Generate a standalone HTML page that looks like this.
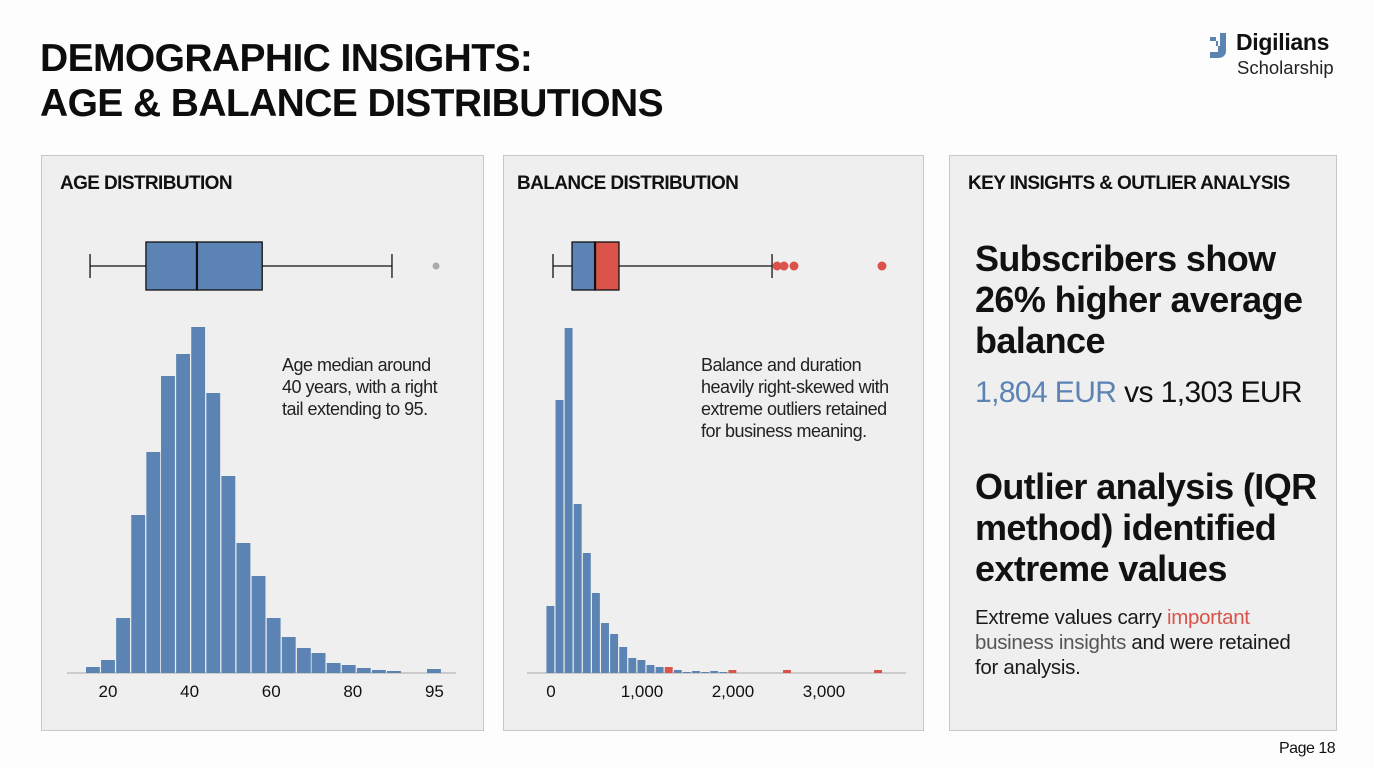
<!DOCTYPE html>
<html><head><meta charset="utf-8"><style>
body{margin:0;width:1374px;height:768px;background:#fdfdfd;font-family:"Liberation Sans",sans-serif;position:relative;overflow:hidden;color:#111}
.abs{position:absolute}
.title{left:40px;top:36px;font-size:39px;font-weight:bold;line-height:45px;letter-spacing:-0.6px;color:#0d0d0d}
.panel{background:#efefef;border:1px solid #c8c8c8;top:155px;height:574px}
.ptitle{font-size:19px;font-weight:bold;letter-spacing:-0.6px;position:absolute;top:17px}
.big{font-size:36px;font-weight:bold;line-height:41px;letter-spacing:-0.6px;left:25px}
</style></head><body>
<div class="abs title">DEMOGRAPHIC INSIGHTS:<br>AGE &amp; BALANCE DISTRIBUTIONS</div>
<div class="abs" style="left:1208px;top:31px;width:140px">
<svg width="22" height="26" style="position:absolute;left:2px;top:2px"><path d="M0 4h6v9h4V0h6v18c0 4-3 7-8 7H0v-6h8V8H0z" fill="#5b83b3"/></svg>
<div style="position:absolute;left:28px;top:-2px;font-size:23px;font-weight:bold;letter-spacing:-0.3px">Digilians</div>
<div style="position:absolute;left:29px;top:26px;font-size:18.5px;color:#222">Scholarship</div></div>

<div class="abs panel" style="left:41px;width:441px">
<div class="ptitle" style="left:18px">AGE DISTRIBUTION</div>
<div class="abs" style="left:240px;top:198px;font-size:18px;line-height:22px;letter-spacing:-0.5px;color:#222">Age median around<br>40 years, with a right<br>tail extending to 95.</div></div>
<div class="abs panel" style="left:503px;width:419px">
<div class="ptitle" style="left:13px">BALANCE DISTRIBUTION</div>
<div class="abs" style="left:197px;top:198px;font-size:18px;line-height:22px;letter-spacing:-0.5px;color:#222">Balance and duration<br>heavily right-skewed with<br>extreme outliers retained<br>for business meaning.</div></div>
<div class="abs panel" style="left:949px;width:386px">
<div class="ptitle" style="left:18px">KEY INSIGHTS &amp; OUTLIER ANALYSIS</div>
<div class="abs big" style="top:82px">Subscribers show<br>26% higher average<br>balance</div>
<div class="abs" style="left:25px;top:220px;font-size:30px;letter-spacing:-0.6px"><span style="color:#5b83b3">1,804 EUR</span> vs 1,303 EUR</div>
<div class="abs big" style="top:310px">Outlier analysis (IQR<br>method) identified<br>extreme values</div>
<div class="abs" style="left:25px;top:449px;font-size:20.5px;line-height:25px;letter-spacing:-0.3px;color:#1a1a1a">Extreme values carry <span style="color:#d9534a">important</span><br><span style="color:#555">business insights</span> and were retained<br>for analysis.</div></div>
<div class="abs" style="left:1279px;top:740px;font-size:16px;letter-spacing:-0.5px">Page 18</div>

<svg id="charts" class="abs" style="left:0;top:0" width="1374" height="768"></svg>
<script>
// Age data
const ageBinStart=[14.6,18.3,22.0,25.7,29.4,33.0,36.7,40.4,44.1,47.8,51.5,55.2,58.9,62.6,66.3,69.9,73.6,77.3,81.0,84.7,88.4,98.2];
const ageCounts=[6,13,55,158,221,297,319,346,280,197,130,97,55,36,25,20,10,8,5,3,2,4];
const ageBox=[15.6,29.3,41.8,57.8,89.6];
const ageOutliers=[100.4];
const ageTicks=[20,40,60,80,100];
const ageTickLabels=["20","40","60","80","95"];
// Balance data
const balBinStart=[-50,50,150,250,350,450,550,650,750,850,950,1050,1150,1350,1450,1550,1650,1750,1850];
const balCounts=[67,273,345,169,120,80,50,39,26,15,13,8,6,3,1,2,1,2,1];
const balRedBinStart=[1250,1950,2550,3550];
const balRedCounts=[6,3,3,3];
const balBox=[22,231,484,747,2429];
const balOutliers=[2484,2560,2670,3637];
const balTicks=[0,1000,2000,3000];
const balTickLabels=["0","1,000","2,000","3,000"];

const NS="http://www.w3.org/2000/svg",svg=document.getElementById('charts');
function mk(t,a){const e=document.createElementNS(NS,t);for(const k in a)e.setAttribute(k,a[k]);svg.appendChild(e);return e;}
const base=673,yScale=1.0;
const ax=v=>108+(v-20)*4.08, bx=v=>551+v*0.091;
const ageBw=3.69*4.08-1.2, balBw=100*0.091-1.2;
const BLUE="#5b83b3",RED="#d9534a";
let e=mk('line',{x1:67,x2:456,y1:base,y2:base,stroke:'#aaa','stroke-width':1});

e=mk('line',{x1:527,x2:906,y1:base,y2:base,stroke:'#aaa','stroke-width':1});

ageCounts.forEach((c,i)=>{const r=mk('rect',{x:ax(ageBinStart[i]),y:base-c*yScale,width:ageBw,height:c*yScale,fill:BLUE});

});
balCounts.forEach((c,i)=>{const r=mk('rect',{x:bx(balBinStart[i]),y:base-c*yScale,width:balBw,height:c*yScale,fill:BLUE});

});
balRedCounts.forEach((c,i)=>{const r=mk('rect',{x:bx(balRedBinStart[i]),y:base-c*yScale,width:balBw,height:c*yScale,fill:RED});

});
ageTicks.forEach((t,i)=>{const tx=mk('text',{x:ax(t),y:697,'text-anchor':'middle','font-size':17,fill:'#111'});tx.textContent=ageTickLabels[i];

});
balTicks.forEach((t,i)=>{const tx=mk('text',{x:bx(t),y:697,'text-anchor':'middle','font-size':17,fill:'#111'});tx.textContent=balTickLabels[i];

});
function box(b,sx,split,name){const y0=242,y1=290,ym=266;
 mk('line',{x1:sx(b[0]),x2:sx(b[1]),y1:ym,y2:ym,stroke:'#111','stroke-width':1.3});
 mk('line',{x1:sx(b[3]),x2:sx(b[4]),y1:ym,y2:ym,stroke:'#111','stroke-width':1.3});
 mk('line',{x1:sx(b[0]),x2:sx(b[0]),y1:254,y2:278,stroke:'#111','stroke-width':1.3});
 mk('line',{x1:sx(b[4]),x2:sx(b[4]),y1:254,y2:278,stroke:'#111','stroke-width':1.3});
 const r1=mk('rect',{x:sx(b[1]),y:y0,width:sx(b[2])-sx(b[1]),height:y1-y0,fill:BLUE,stroke:'#111','stroke-width':1.3});
 
 
 const r2=mk('rect',{x:sx(b[2]),y:y0,width:sx(b[3])-sx(b[2]),height:y1-y0,fill:split?RED:BLUE,stroke:'#111','stroke-width':1.3});
 
 
 mk('line',{x1:sx(b[2]),x2:sx(b[2]),y1:y0,y2:y1,stroke:'#111','stroke-width':2.2});}
box(ageBox,ax,false,'age');box(balBox,bx,true,'balance');
ageOutliers.forEach(v=>{const c=mk('circle',{cx:ax(v),cy:266,r:3.5,fill:'#aaa'});

});
balOutliers.forEach(v=>{const c=mk('circle',{cx:bx(v),cy:266,r:4.5,fill:RED});

});
</script>
</body></html>
